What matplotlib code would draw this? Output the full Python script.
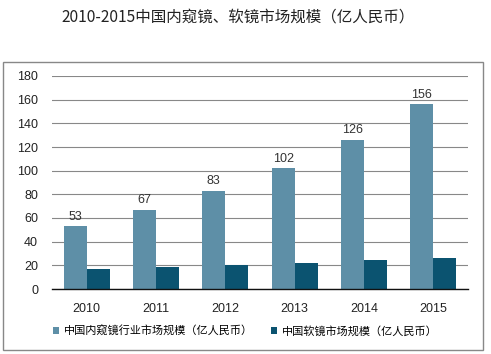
import matplotlib.pyplot as plt
import numpy as np
from matplotlib.patches import Rectangle

plt.rcParams['font.family'] = ['Liberation Sans', 'Noto Sans CJK SC', 'DejaVu Sans']

years = ['2010', '2011', '2012', '2013', '2014', '2015']
endoscope = [53, 67, 83, 102, 126, 156]
flexible = [17, 18.6, 20.2, 22, 24.4, 26.2]
yticks = [0, 20, 40, 60, 80, 100, 120, 140, 160, 180]

title = '2010-2015中国内窥镜、软镜市场规模（亿人民币）'
label1 = '中国内窥镜行业市场规模（亿人民币）'
label2 = '中国软镜市场规模（亿人民币）'

c_light = '#5e8fa7'
c_dark = '#0b5370'

fig = plt.figure(figsize=(4.91, 3.54), dpi=100)

# outer frame
fig.patches.append(Rectangle((3 / 491, 4 / 354), 480 / 491, 288 / 354,
                             transform=fig.transFigure, fill=False,
                             edgecolor='#888888', linewidth=1.0))

fig.text(238 / 491, 1 - 17 / 354, title, ha='center', va='center',
         fontsize=11.2, family=['Noto Sans CJK SC', 'DejaVu Sans'], color='#222222')

ax = fig.add_axes([52 / 491, 1 - 289 / 354, 416 / 491, 213 / 354])

x = np.arange(len(years))
w = 1 / 3
b1 = ax.bar(x - w / 2, endoscope, width=w, color=c_light, label=label1, zorder=2)
b2 = ax.bar(x + w / 2, flexible, width=w, color=c_dark, label=label2, zorder=2)

for rect, v in zip(b1, endoscope):
    ax.text(rect.get_x() + rect.get_width() / 2, v + 3, str(v),
            ha='center', va='bottom', fontsize=9, color='#333333', zorder=3)

ax.set_xlim(-0.5, len(years) - 0.5)
ax.set_ylim(0, 180)
ax.set_yticks(yticks)
ax.set_xticks(x)
ax.set_xticklabels(years)
ax.tick_params(axis='both', length=0, labelsize=9, colors='#222222')
ax.tick_params(axis='x', pad=10)
ax.tick_params(axis='y', pad=10)
ax.grid(axis='y', color='#888888', linewidth=0.8, zorder=0)
for s in ['left', 'right', 'top']:
    ax.spines[s].set_visible(False)
ax.spines['bottom'].set_color('#111111')
ax.spines['bottom'].set_linewidth(1.0)
ax.spines['bottom'].set_zorder(3)

fig.legend(handles=[b1, b2], loc='center', bbox_to_anchor=(245 / 491, 1 - 331 / 354),
           ncol=2, frameon=False, handlelength=0.6, handleheight=0.6,
           handletextpad=0.4, columnspacing=1.6,
           prop={'family': ['Noto Sans CJK SC', 'DejaVu Sans'], 'size': 8})

fig.savefig('out.png', dpi=100)
